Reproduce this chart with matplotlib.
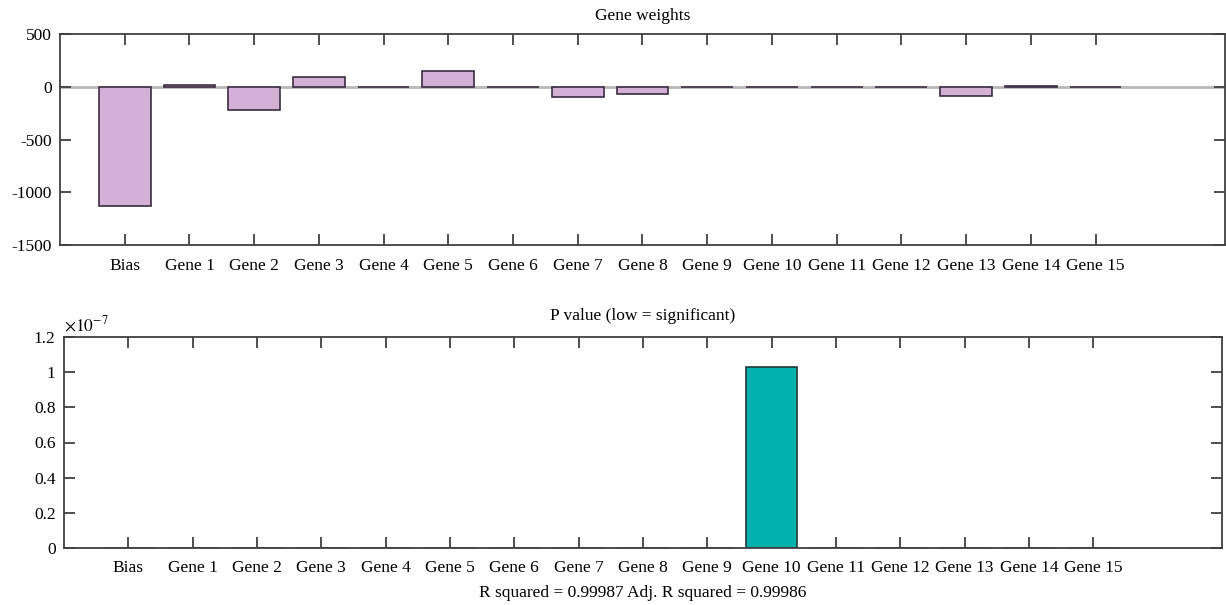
import matplotlib
matplotlib.use("Agg")
import matplotlib.pyplot as plt
from matplotlib.ticker import FuncFormatter

plt.rcParams['font.family'] = ['Liberation Serif', 'DejaVu Serif']
plt.rcParams['mathtext.fontset'] = 'stix'
plt.rcParams['axes.unicode_minus'] = False

# data
labels = ["Bias"] + ["Gene %d" % i for i in range(1, 16)]
weights = [-1128, 12, -220, 89, -3, 151, -2, -100, -69, -5, -2, -2, -2, -85, 6, -2]
pvalues = [0, 0, 0, 0, 0, 0, 0, 0, 0, 0, 1.03e-7, 0, 0, 0, 0, 0]
r2_text = "R squared = 0.99987 Adj. R squared = 0.99986"

x = list(range(1, len(labels) + 1))
spine_col = "#404040"

fig = plt.figure(figsize=(12.26, 6.05), dpi=100)
ax1 = fig.add_axes([60 / 1226, 1 - 245 / 605, 1165 / 1226, 211 / 605])
ax2 = fig.add_axes([64 / 1226, 1 - 548 / 605, 1158 / 1226, 211 / 605])


def style(ax):
    for s in ax.spines.values():
        s.set_color(spine_col)
        s.set_linewidth(1.3)
    ax.tick_params(direction="in", length=8, width=1.3, color=spine_col,
                   top=True, right=True, labelsize=12.5)
    ax.tick_params(axis="x", pad=9)
    ax.tick_params(axis="y", pad=6)
    ax.set_xticks(x)
    ax.set_xticklabels(labels)
    ax.set_xlim(0, 18)


# top: gene weights
ax1.axhline(0, color="#b8b8b8", linewidth=2, zorder=1)
ax1.bar(x, weights, width=0.8, color="#d4b0d6", edgecolor="#3a2d40",
        linewidth=1.2, zorder=2)
ax1.set_ylim(-1500, 500)
ax1.set_yticks([-1500, -1000, -500, 0, 500])
style(ax1)
ax1.set_title("Gene weights", fontsize=12.5, pad=10)

# bottom: p values
ax2.bar(x, pvalues, width=0.8, color="#00b0ad", edgecolor="#1e3a3a",
        linewidth=1.2, zorder=2)
ax2.set_ylim(0, 1.2e-7)
ax2.set_yticks([i * 0.2e-7 for i in range(7)])
ax2.yaxis.set_major_formatter(FuncFormatter(lambda v, p: "%g" % round(v * 1e7, 2)))
style(ax2)
ax2.set_title("P value (low = significant)", fontsize=12.5, pad=12)
ax2.text(0.0, 1.012, r"$\times 10^{\mathrm{-7}}$", transform=ax2.transAxes,
         fontsize=12.5, ha="left", va="bottom")
ax2.set_xlabel(r2_text, fontsize=12.5, labelpad=6)

fig.savefig("out.png", dpi=100)
